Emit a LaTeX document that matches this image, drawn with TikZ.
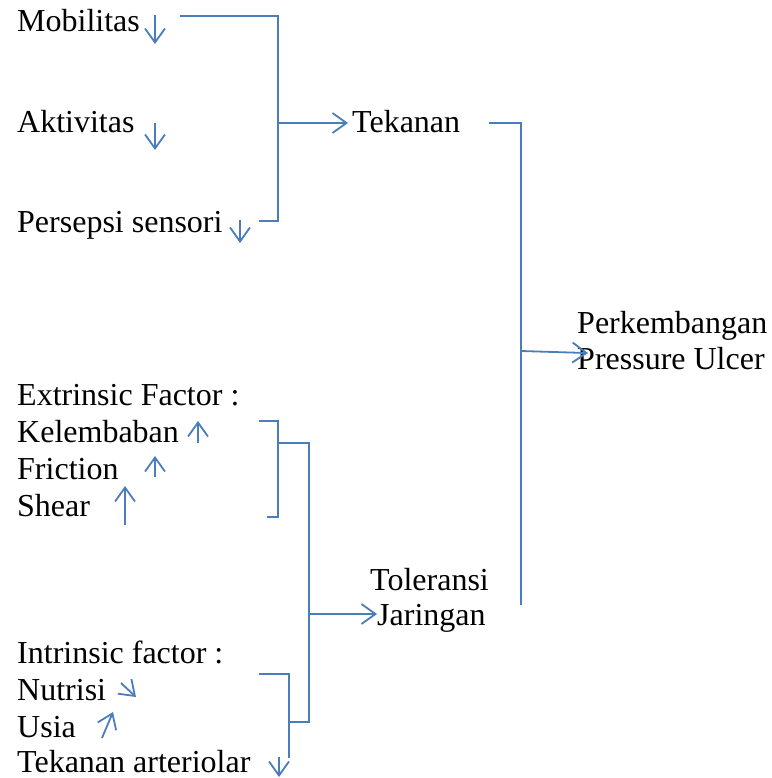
\documentclass[tikz,border=0pt]{standalone}
\usepackage{fontspec}
\setmainfont{Liberation Serif}
\usetikzlibrary{arrows.meta, positioning}
\definecolor{wordblue}{RGB}{74,126,187}

\begin{document}
\begin{tikzpicture}[x=1pt, y=-1pt, >={Straight Barb[length=14pt, width=20pt]}]
  % --- STYLE DEFINITIONS ---
  \tikzstyle{factor}=[anchor=base west, inner sep=0pt, font=\fontsize{32}{36}\selectfont]
  \tikzstyle{link}=[draw=wordblue, line width=1.8pt]
  \tikzstyle{trend}=[->, draw=wordblue, line width=1.8pt]

  \useasboundingbox (0,0) rectangle (771,778);

  % =================================================================
  % UPPER GROUP: TEKANAN
  % =================================================================
  \node[factor] (mob) at (17,32) {Mobilitas};
  \node[factor] (akt) at (17,133) {Aktivitas};
  \node[factor] (per) at (17,232) {Persepsi sensori};
  \node[factor, inner xsep=4pt] (tek) at (348,133) {Tekanan};

  \draw[trend] (155,15) -- (155,44);
  \draw[trend] (155,123) -- (155,150);
  \draw[trend] (240,220) -- (240,243);

  \coordinate (b1a) at (180,16);
  \coordinate (b1b) at (278,16);
  \coordinate (b1c) at (278,221);
  \coordinate (b1d) at (259,221);
  \coordinate (b1m) at (278,123);
  \draw[link] (b1a) -- (b1b) -- (b1c) -- (b1d);
  \draw[link, ->] (b1m) -- (b1m -| tek.west);

  % =================================================================
  % RESULT: PERKEMBANGAN PRESSURE ULCER
  % =================================================================
  \node[factor] (perk) at (577,333) {Perkembangan};
  \node[factor] (ulc) at (577,369) {Pressure Ulcer};

  \coordinate (b3a) at (489,123);
  \coordinate (b3b) at (521,123);
  \coordinate (b3c) at (521,605);
  \coordinate (b3m) at (521,351);
  \draw[link] (b3a) -- (b3b) -- (b3c);
  \draw[link, ->] (b3m) -- ([xshift=11pt, yshift=5pt]ulc.west);

  % =================================================================
  % LOWER GROUP: TOLERANSI JARINGAN
  % =================================================================
  \node[factor] (ext) at (17,405) {Extrinsic Factor :};
  \node[factor] (kel) at (17,442) {Kelembaban};
  \node[factor] (fri) at (17,479) {Friction};
  \node[factor] (she) at (17,516) {Shear};

  \draw[trend] (198,443) -- (198,421);
  \draw[trend] (155,477) -- (155,456);
  \draw[trend] (125,525) -- (125,486);

  \node[factor] (int) at (17,663) {Intrinsic factor :};
  \node[factor] (nut) at (17,700) {Nutrisi};
  \node[factor] (usi) at (17,737) {Usia};
  \node[factor] (art) at (17,772) {Tekanan arteriolar};

  \draw[trend] (121,683) -- (136,697);
  \draw[trend] (102,738) -- (113,712);
  \draw[trend] (279,757) -- (279,777);

  \node[factor] (tol) at (370,590) {Toleransi};
  \node[factor] (jar) at (377,625) {Jaringan};

  % extrinsic bracket
  \coordinate (b4a) at (259,421);
  \coordinate (b4b) at (278,421);
  \coordinate (b4c) at (278,517);
  \coordinate (b4d) at (267,517);
  \coordinate (b4m) at (278,443);
  \draw[link] (b4a) -- (b4b) -- (b4c) -- (b4d);

  % intrinsic bracket
  \coordinate (b5a) at (259,674);
  \coordinate (b5b) at (289,674);
  \coordinate (b5c) at (289,758);
  \coordinate (b5m) at (289,722);
  \draw[link] (b5a) -- (b5b) -- (b5c);

  % joining bracket
  \coordinate (b6a) at (309,443);
  \coordinate (b6b) at (309,722);
  \coordinate (b6m) at (309,614);
  \draw[link] (b4m) -- (b6a) -- (b6b) -- (b5m);
  \draw[link, ->] (b6m) -- (b6m -| jar.west);

\end{tikzpicture}
\end{document}
